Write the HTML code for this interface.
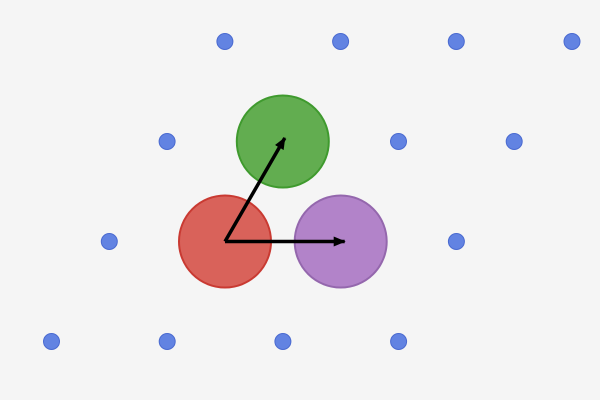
<!DOCTYPE html>
<html><head><meta charset="utf-8"><style>
html,body{margin:0;padding:0;background:#f5f5f5;}
svg{display:block;}
</style></head><body>
<svg id="chart" width="600" height="400" viewBox="0 0 600 400" xmlns="http://www.w3.org/2000/svg">
<rect width="600" height="400" fill="#f5f5f5"/>
<defs><marker id="ah" markerWidth="12" markerHeight="10" refX="11" refY="5" orient="auto" markerUnits="userSpaceOnUse"><path d="M0,0 L12,5 L0,10 Z" fill="#000"/></marker></defs>
<g id="dots"></g><g id="atoms"></g><g id="vecs"></g>
</svg>
<script>
const latticeI = [-1,0,1,2, -1,1,2, -1,2, -1,0,1,2];
const latticeJ = [2,2,2,2, 1,1,1, 0,0, -1,-1,-1,-1];
const atomI = [0,0,1];
const atomJ = [0,1,0];
const atomFill = ['#d9625a','#62ad50','#b283c9'];
const atomStroke = ['#c93a32','#3f9a2e','#9467ad'];
const atomNames = ['red-atom','green-atom','purple-atom'];
const vecI = [1,0];
const vecJ = [0,1];
const ox=225, oy=241.5, a1x=115.7, a1y=0, a2x=57.8, a2y=-100;
const px=(i,j)=>ox+i*a1x+j*a2x, py=(i,j)=>oy+i*a1y+j*a2y;
const NS='http://www.w3.org/2000/svg';
const dots=document.getElementById('dots');
latticeI.forEach((i,k)=>{const j=latticeJ[k];const c=document.createElementNS(NS,'circle');
c.setAttribute('cx',px(i,j));c.setAttribute('cy',py(i,j));c.setAttribute('r',8);
c.setAttribute('fill','#6283e2');c.setAttribute('stroke','#4a6ad0');c.setAttribute('stroke-width',1);


dots.appendChild(c);});
const atoms=document.getElementById('atoms');
atomI.forEach((i,k)=>{const j=atomJ[k];const c=document.createElementNS(NS,'circle');
c.setAttribute('cx',px(i,j));c.setAttribute('cy',py(i,j));c.setAttribute('r',46);
c.setAttribute('fill',atomFill[k]);c.setAttribute('stroke',atomStroke[k]);c.setAttribute('stroke-width',2);


atoms.appendChild(c);});
const vecs=document.getElementById('vecs');
vecI.forEach((i,k)=>{const j=vecJ[k];const l=document.createElementNS(NS,'line');
const x2=px(i,j),y2=py(i,j);const dx=x2-ox,dy=y2-oy,L=Math.hypot(dx,dy);
l.setAttribute('x1',ox);l.setAttribute('y1',oy);l.setAttribute('x2',x2+dx/L*4);l.setAttribute('y2',y2+dy/L*4);
l.setAttribute('stroke','#000');l.setAttribute('stroke-width',3.5);l.setAttribute('marker-end','url(#ah)');


vecs.appendChild(l);});
</script>
</body></html>
